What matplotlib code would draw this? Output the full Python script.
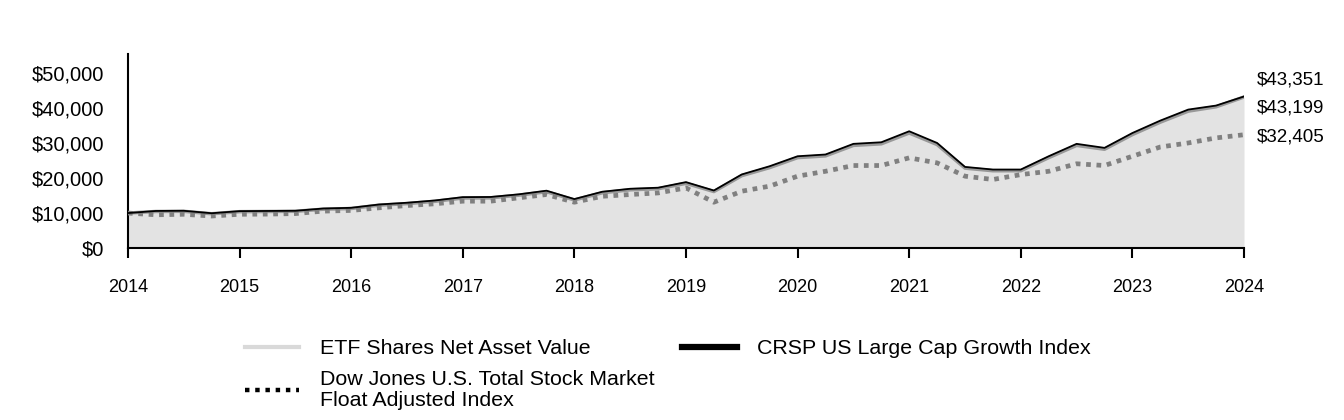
import numpy as np
import pandas as pd
import matplotlib
matplotlib.use("Agg")
import matplotlib.pyplot as plt
from matplotlib.lines import Line2D

plt.rcParams['font.family'] = ['Liberation Sans', 'DejaVu Sans']

dates = pd.date_range("2014-01-01", "2024-01-01", freq="QS")

crsp = [10000, 10600, 10650, 9950, 10550, 10600, 10650, 11300, 11500, 12450,
        12950, 13600, 14550, 14600, 15350, 16400, 14000, 16100, 16950, 17250,
        18850, 16450, 21050, 23400, 26250, 26750, 29800, 30250, 33400, 30050,
        23200, 22450, 22450, 26250, 29800, 28650, 32900, 36450, 39600, 40750,
        43351]
etf = [10000, 10450, 10500, 9800, 10400, 10450, 10500, 11100, 11300, 12250,
       12700, 13350, 14300, 14350, 15100, 16100, 13750, 15800, 16650, 16950,
       18500, 16150, 20700, 23000, 25850, 26350, 29350, 29800, 32900, 29600,
       22850, 22100, 22100, 25850, 29350, 28250, 32450, 36000, 39150, 40400,
       43199]
dow = [10000, 9500, 9650, 9150, 9650, 9700, 9850, 10550, 10750, 11500,
       12150, 12650, 13400, 13400, 14350, 15300, 13100, 14800, 15300, 15750,
       17200, 13100, 16250, 17700, 20550, 21950, 23600, 23600, 25800, 24350,
       20550, 19600, 21000, 21950, 24100, 23600, 26250, 28900, 30050, 31500,
       32405]

end_labels = ["$43,351", "$43,199", "$32,405"]
years = [str(y) for y in range(2014, 2025)]

x = dates.year + (dates.month - 1) / 12.0

fig = plt.figure(figsize=(13.44, 4.2), dpi=100)
ax = fig.add_axes([0.0952, 0.4095, 0.8304, 0.4619])

ax.fill_between(x, 0, etf, color="#e3e3e3", lw=0, zorder=1)
ax.plot(x, etf, color="#999999", lw=2.5, zorder=2)
ax.plot(x, dow, color="#808080", lw=3.4, dashes=(1, 1.2), dash_capstyle="butt", zorder=3)
ax.plot(x, crsp, color="#000000", lw=1.3, zorder=4)

ax.set_xlim(2014, 2024)
ax.set_ylim(0, 55500)
ax.set_xticks(range(2014, 2025))
ax.set_xticklabels(years, fontsize=13)
ax.set_yticks(range(0, 50001, 10000))
ax.set_yticklabels(["${:,.0f}".format(v) for v in range(0, 50001, 10000)], fontsize=14.5)
ax.tick_params(axis="x", length=7, width=1.5, pad=15, direction="out")
ax.tick_params(axis="y", length=0, pad=17)
for s in ["top", "right"]:
    ax.spines[s].set_visible(False)
ax.spines["left"].set_linewidth(1.5)
ax.spines["bottom"].set_linewidth(1.5)

label_y = [0.8095, 0.743, 0.674]
for lab, yy in zip(end_labels, label_y):
    fig.text(0.935, yy, lab, fontsize=13.5, va="center", ha="left")

handles = [
    Line2D([], [], color="#d9d9d9", lw=3),
    Line2D([], [], color="black", lw=3.2, dashes=(1, 1.3), dash_capstyle="butt"),
    Line2D([], [], color="black", lw=4.5),
]
labels = ["ETF Shares Net Asset Value",
          "Dow Jones U.S. Total Stock Market\nFloat Adjusted Index",
          "CRSP US Large Cap Growth Index"]
leg = fig.legend(handles, labels, ncol=2, loc="upper left", bbox_to_anchor=(234 / 1344, 0.218),
                 frameon=False, fontsize=15.4, handlelength=2.55, handletextpad=0.95,
                 columnspacing=1.3, labelspacing=0.55, borderpad=0)
for t in leg.get_texts():
    t.set_linespacing(1.15)

fig.savefig("out.png", dpi=100)
